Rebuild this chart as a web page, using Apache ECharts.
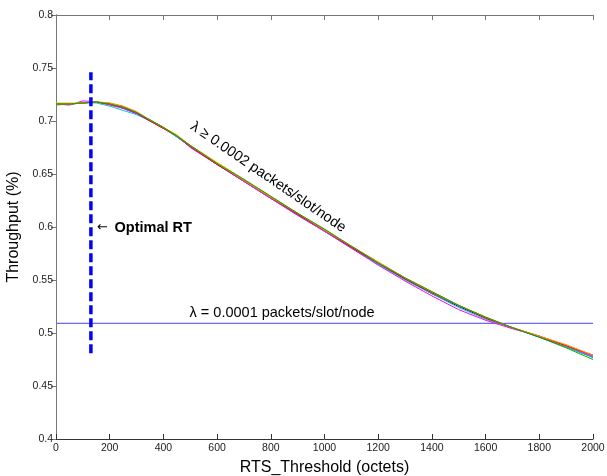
<!DOCTYPE html>
<html>
<head>
<meta charset="utf-8">
<script src="https://cdn.jsdelivr.net/npm/echarts@6/dist/echarts.min.js"></script>
<style>
html,body{margin:0;padding:0;background:#fff;}
#chart{width:607px;height:476px;}
</style>
</head>
<body>
<div id="chart"></div>
<script>
// ---- data ----
var xValues = [0,50,100,150,200,250,300,350,400,450,500,600,700,800,900,1000,1100,1200,1300,1400,1500,1600,1700,1800,1900,2000];
var redSeries     = [0.716,0.716,0.717,0.718,0.716,0.713,0.708,0.700,0.693,0.686,0.676,0.659,0.644,0.628,0.612,0.597,0.581,0.566,0.551,0.538,0.526,0.514,0.505,0.497,0.488,0.479];
var greenSeries   = [0.716,0.716,0.717,0.718,0.716,0.713,0.708,0.701,0.694,0.686,0.677,0.660,0.645,0.629,0.613,0.598,0.582,0.566,0.552,0.539,0.526,0.515,0.505,0.496,0.486,0.475];
var blueSeries    = [0.716,0.716,0.717,0.718,0.716,0.712,0.707,0.701,0.694,0.685,0.676,0.659,0.643,0.627,0.612,0.596,0.581,0.565,0.551,0.537,0.525,0.514,0.505,0.496,0.487,0.477];
var cyanSeries    = [0.715,0.716,0.717,0.717,0.714,0.710,0.706,0.700,0.693,0.685,0.676,0.659,0.643,0.627,0.611,0.596,0.580,0.565,0.550,0.537,0.524,0.513,0.505,0.497,0.487,0.477];
var magentaSeries = [0.716,0.715,0.719,0.718,0.715,0.712,0.707,0.700,0.693,0.686,0.675,0.659,0.643,0.627,0.611,0.596,0.580,0.564,0.549,0.535,0.522,0.512,0.504,0.497,0.488,0.478];
var yellowSeries  = [0.717,0.717,0.717,0.718,0.717,0.714,0.708,0.701,0.694,0.687,0.677,0.661,0.645,0.629,0.613,0.598,0.582,0.567,0.552,0.539,0.526,0.515,0.505,0.497,0.488,0.479];
var orangeSeries  = [0.716,0.716,0.717,0.718,0.717,0.714,0.709,0.701,0.694,0.686,0.677,0.660,0.644,0.628,0.613,0.597,0.582,0.567,0.552,0.539,0.526,0.515,0.505,0.497,0.489,0.479];
var lowRateLevel = 0.509;
var optimalRT = 130;
var optimalRange = [0.481, 0.746];
var yTicks = ['0.4','0.45','0.5','0.55','0.6','0.65','0.7','0.75','0.8'];
var xTicks = ['0','200','400','600','800','1000','1200','1400','1600','1800','2000'];

function pairs(ys){ return xValues.map(function(x,i){ return [x, ys[i]]; }); }

var curveDefs = [
  {data: blueSeries, color:'#0000ff'},
  {data: cyanSeries, color:'#00cccc'},
  {data: magentaSeries, color:'#ff00ff'},
  {data: yellowSeries, color:'#e6c800'},
  {data: redSeries, color:'#ff0000'},
  {data: orangeSeries, color:'#ff8c00'},
  {data: greenSeries, color:'#00b000'}
];

var FONT = '"Liberation Sans", Arial, Helvetica, sans-serif';
var chart = echarts.init(document.getElementById('chart'), null, {renderer:'canvas'});

var series = curveDefs.map(function(c){
  return {type:'line', data:pairs(c.data), showSymbol:false, symbol:'none', smooth:false,
          lineStyle:{color:c.color, width:1}, z:3, silent:true};
});
series.push({type:'line', data:[[0,lowRateLevel],[2000,lowRateLevel]], symbol:'none',
  lineStyle:{color:'#6a6aff', width:1.2}, z:2, silent:true});
series.push({type:'line', data:[[optimalRT,optimalRange[0]],[optimalRT,optimalRange[1]]], symbol:'none',
  lineStyle:{color:'#0000ff', width:3.5, type:[9,4]}, z:4, silent:true});

function axisStyle(inside, color){
  return {
    axisLine:{show:true, lineStyle:{color:color, width:1}},
    axisTick:{show:true, inside:inside, length:5, lineStyle:{color:color}},
    splitLine:{show:false}
  };
}

chart.setOption({
  animation:false,
  backgroundColor:'#fff',
  grid:{left:56, right:14, top:15, bottom:37, containLabel:false, outerBoundsMode:'none'},
  xAxis:[
    Object.assign({type:'value', min:0, max:2000, interval:200, position:'bottom',
      name:'RTS_Threshold (octets)', nameLocation:'middle', nameGap:21,
      nameTextStyle:{fontFamily:FONT, fontSize:16, color:'#000'},
      axisLabel:{fontFamily:FONT, fontSize:10.5, color:'#222', margin:4,
        formatter:function(v){ var i=Math.round(v/200); return xTicks[i]!==undefined?xTicks[i]:''; }}},
      axisStyle(true,'#333')),
    Object.assign({type:'value', min:0, max:2000, interval:200, position:'top',
      axisLabel:{show:false}}, axisStyle(true,'#777'))
  ],
  yAxis:[
    Object.assign({type:'value', min:0.4, max:0.8, interval:0.05, position:'left',
      name:'Throughput (%)', nameLocation:'middle', nameGap:29,
      nameTextStyle:{fontFamily:FONT, fontSize:16, color:'#000'},
      axisLabel:{fontFamily:FONT, fontSize:10.5, color:'#222', margin:3,
        formatter:function(v){ var i=Math.round((v-0.4)/0.05); return yTicks[i]!==undefined?yTicks[i]:''; }}},
      axisStyle(false,'#333')),
    Object.assign({type:'value', min:0.4, max:0.8, interval:0.05, position:'right',
      axisLabel:{show:false}}, axisStyle(true,'#777'))
  ],
  series: series
});

function px(x,y){ return chart.convertToPixel({xAxisIndex:0, yAxisIndex:0},[x,y]); }
var p1 = px(790, 0.647);
var p2 = px(842, 0.519);
var pa = px(153, 0.599);
var pb = px(218, 0.599);
chart.setOption({
  graphic:[
    {type:'text', x:p1[0], y:p1[1], rotation:-34.3*Math.PI/180,
     style:{text:'λ ≥ 0.0002 packets/slot/node', fontFamily:FONT, fontSize:14.5, fill:'#000',
            align:'center', verticalAlign:'middle'}},
    {type:'text', x:p2[0], y:p2[1],
     style:{text:'λ = 0.0001 packets/slot/node', fontFamily:FONT, fontSize:14.5, fill:'#000',
            align:'center', verticalAlign:'middle'}},
    {type:'text', x:pa[0], y:pa[1],
     style:{text:'←', fontFamily:'"DejaVu Sans", sans-serif', fontSize:13, fill:'#000',
            align:'left', verticalAlign:'middle'}},
    {type:'text', x:pb[0], y:pb[1],
     style:{text:'Optimal RT', fontFamily:FONT, fontSize:14.5, fontWeight:'bold', fill:'#000',
            align:'left', verticalAlign:'middle'}}
  ]
});
</script>
</body>
</html>
